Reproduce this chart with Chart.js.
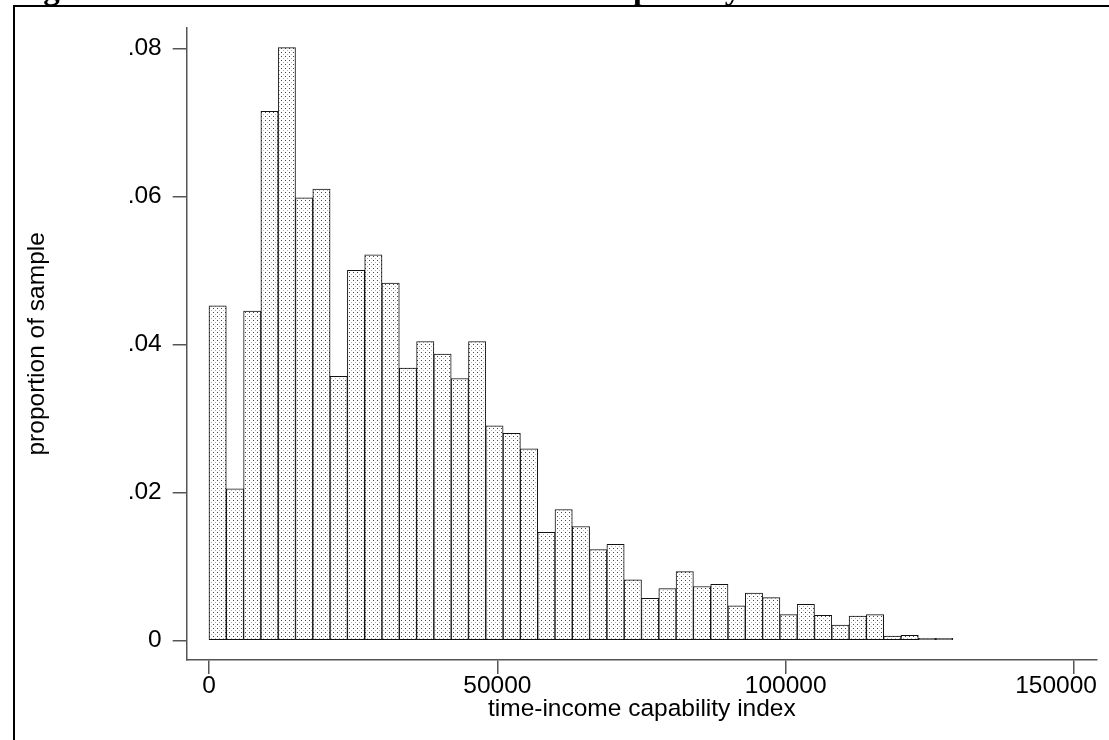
<!DOCTYPE html>
<html>
<head>
<meta charset="utf-8">
<script src="https://cdn.jsdelivr.net/npm/chart.js@4.4.0/dist/chart.umd.min.js"></script>
<style>
  body { margin: 0; background: #fff; }
  #wrap { position: relative; width: 1109px; height: 740px; overflow: hidden; }
  #chart { position: absolute; left: 0; top: 0; }
  .frame { position: absolute; left: 13px; top: 5px; width: 1200px; height: 800px;
           border-left: 2px solid #000; border-top: 2px solid #000; pointer-events: none; }
  .title { position: absolute; left: 14px; top: -30.4px; line-height: 33px; white-space: nowrap;
           font: bold 33px "Liberation Serif", "DejaVu Serif", serif; color: #000; }
</style>
</head>
<body>
<div id="wrap">
  <canvas id="chart" width="1109" height="740"></canvas>
  <div class="frame"></div>
  <div class="title">Figure 3: Distribution of the time-income capability index</div>
</div>
<script>
// histogram bins, width 3000
const binWidth = 3000;
const binStarts = [0, 3000, 6000, 9000, 12000, 15000, 18000, 21000, 24000, 27000,
    30000, 33000, 36000, 39000, 42000, 45000, 48000, 51000, 54000, 57000,
    60000, 63000, 66000, 69000, 72000, 75000, 78000, 81000, 84000, 87000,
    90000, 93000, 96000, 99000, 102000, 105000, 108000, 111000, 114000, 117000,
    120000, 123000, 126000];
const proportions = [0.0452, 0.0205, 0.0445, 0.0715, 0.0801, 0.0598, 0.0610, 0.0357, 0.0500, 0.0521,
    0.0483, 0.0368, 0.0404, 0.0387, 0.0354, 0.0404, 0.0290, 0.0280, 0.0259, 0.0146,
    0.0177, 0.0154, 0.0123, 0.0130, 0.0082, 0.0057, 0.0070, 0.0093, 0.0073, 0.0076,
    0.0047, 0.0064, 0.0058, 0.0035, 0.0049, 0.0034, 0.0021, 0.0033, 0.0035, 0.0006,
    0.0007, 0.0003, 0.0003];
const xTicks = [0, 50000, 100000, 150000];
const yTicks = [0, 0.02, 0.04, 0.06, 0.08];

const fontFamily = '"Liberation Sans", Arial, sans-serif';
const fontSize = 24.5;
const axisColor = '#555';

// dotted fill like the stata pattern
const tile = document.createElement('canvas');
tile.width = 4;
tile.height = 4;
const t = tile.getContext('2d');
t.fillStyle = '#fff';
t.fillRect(0, 0, 4, 4);
t.fillStyle = '#444';
t.fillRect(1, 0, 1, 1);
t.fillStyle = '#b0b0b0';
t.fillRect(3, 2, 1, 1);

var ctx = document.getElementById('chart').getContext('2d');
const dots = ctx.createPattern(tile, 'repeat');

// x tick labels drawn by hand so the last one stays inside the frame
const xLabels = {
    id: 'xLabels',
    afterDraw(chart) {
        const scale = chart.scales.x;
        const c = chart.ctx;
        c.save();
        c.font = fontSize + 'px ' + fontFamily;
        c.fillStyle = '#000';
        c.textAlign = 'center';
        c.textBaseline = 'middle';
        xTicks.forEach((v) => {
            const label = String(v);
            const w = c.measureText(label).width;
            let px = scale.getPixelForValue(v);
            px = Math.min(px, chart.chartArea.right - w / 2);
            c.fillText(label, px, scale.top + 26);
        });
        c.restore();
    }
};

var chart = new Chart(ctx, {
    type: 'bar',
    data: {
        datasets: [{
            data: binStarts.map((s, i) => ({ x: s + binWidth / 2, y: proportions[i] })),
            backgroundColor: dots,
            borderColor: '#111',
            borderWidth: 1,
            borderSkipped: false,
            barPercentage: 1,
            categoryPercentage: 1
        }]
    },
    options: {
        responsive: false,
        animation: false,
        layout: {
            padding: { top: 27.7, right: 12, left: 0, bottom: 0 }
        },
        scales: {
            x: {
                type: 'linear',
                min: -3867,
                max: 153990,
                offset: false,
                afterBuildTicks: (scale) => {
                    scale.ticks = xTicks.map((v) => ({ value: v }));
                },
                afterFit: (scale) => {
                    scale.height = 80;
                    scale.paddingLeft = 0;
                    scale.paddingRight = 0;
                },
                ticks: { display: false },
                grid: {
                    drawOnChartArea: false,
                    drawTicks: true,
                    tickLength: 14,
                    offset: false,
                    color: axisColor,
                    lineWidth: 1.5
                },
                border: { display: true, color: axisColor, width: 1.5 },
                title: {
                    display: true,
                    text: 'time-income capability index',
                    color: '#000',
                    font: { family: fontFamily, size: fontSize },
                    padding: { top: 0, bottom: 15.8 }
                }
            },
            y: {
                type: 'linear',
                min: -0.002634,
                max: 0.08279,
                afterBuildTicks: (scale) => {
                    scale.ticks = yTicks.map((v) => ({ value: v }));
                },
                afterFit: (scale) => {
                    scale.width = 186.7;
                    scale.paddingTop = 0;
                    scale.paddingBottom = 0;
                },
                ticks: {
                    padding: 11,
                    color: '#000',
                    font: { family: fontFamily, size: fontSize, lineHeight: 1 },
                    callback: (v) => (v === 0 ? '0' : v.toFixed(2).replace(/^0/, ''))
                },
                grid: {
                    drawOnChartArea: false,
                    drawTicks: true,
                    tickLength: 14,
                    color: axisColor,
                    lineWidth: 1.5
                },
                border: { display: true, color: axisColor, width: 1.5 },
                title: {
                    display: true,
                    text: 'proportion of sample',
                    color: '#000',
                    font: { family: fontFamily, size: fontSize },
                    padding: { top: 22.3, bottom: 0 }
                }
            }
        },
        plugins: {
            legend: { display: false },
            tooltip: { enabled: false }
        }
    },
    plugins: [xLabels]
});
</script>
</body>
</html>
